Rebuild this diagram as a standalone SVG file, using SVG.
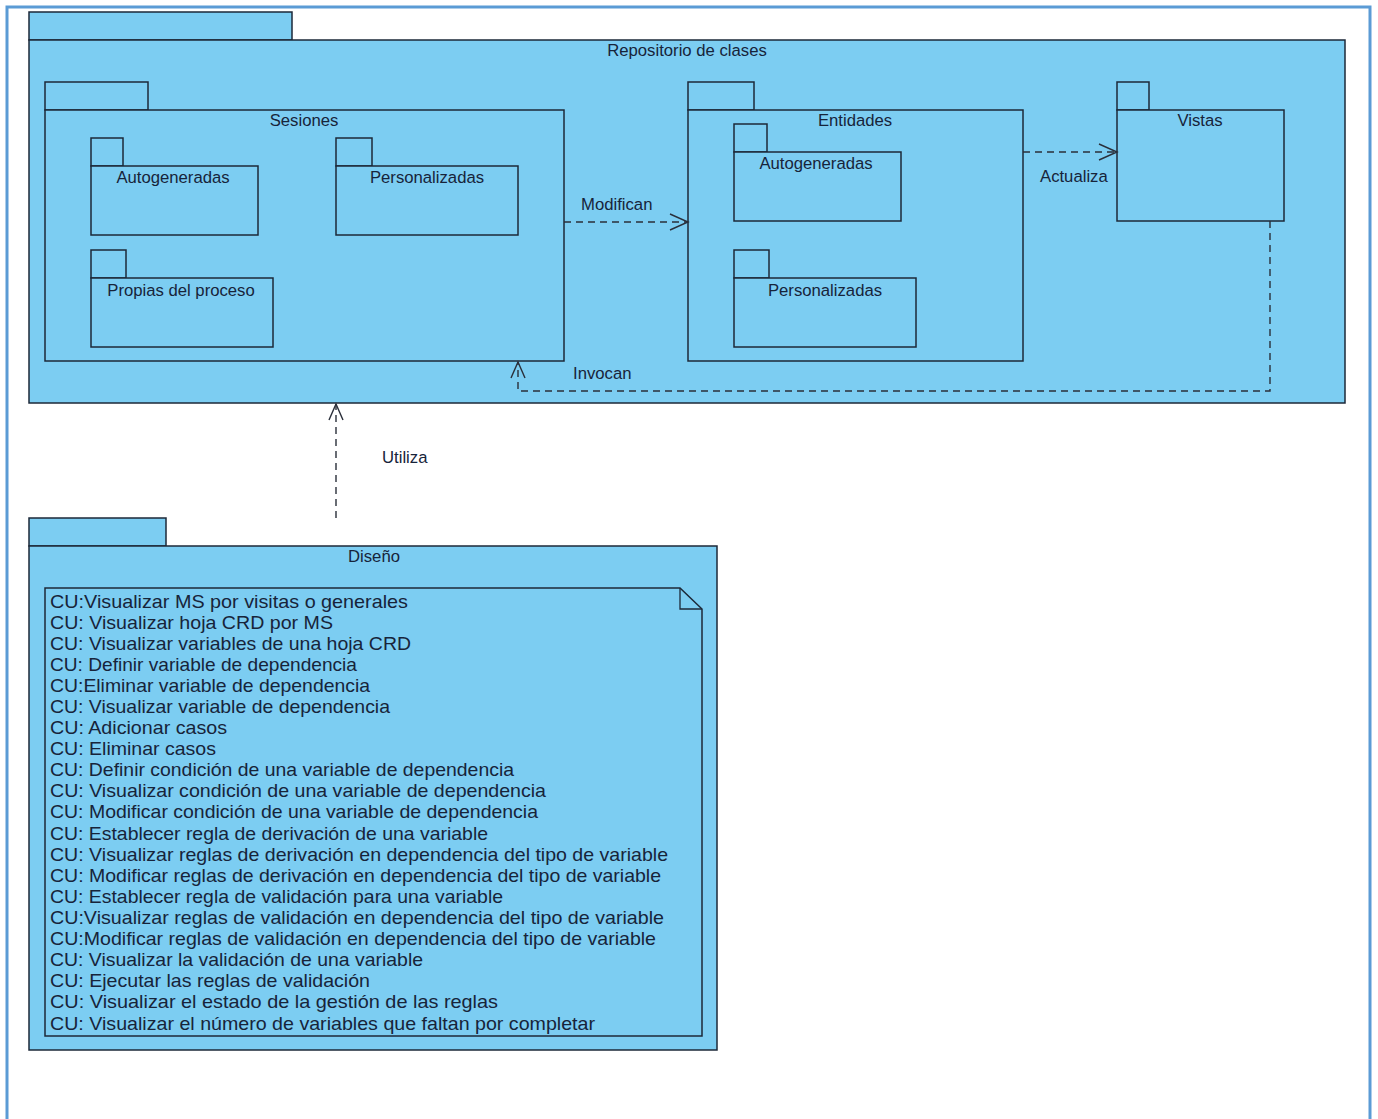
<svg xmlns="http://www.w3.org/2000/svg" width="1378" height="1119" viewBox="0 0 1378 1119">
<style>
.pk{fill:#7ccdf2;stroke:#1c2838;stroke-width:1.5}
.lb{font-family:"Liberation Sans",Arial,sans-serif;font-size:16.7px;fill:#17243a}
.mid{text-anchor:middle}
.cn{fill:none;stroke:#2a2f3a;stroke-width:1.4;stroke-dasharray:7 5}
.ah{fill:none;stroke:#2a2f3a;stroke-width:1.4}
.nt{font-family:"Liberation Sans",Arial,sans-serif;font-size:18.5px;fill:#17243a}
</style>
<rect width="1378" height="1119" fill="#ffffff"/>
<path d="M7,1119 V7 H1370 V1119" fill="none" stroke="#5b9bd5" stroke-width="3"/>

<g id="repositorio">
<rect class="pk" x="29" y="12" width="263" height="28"/>
<rect class="pk" x="29" y="40" width="1316" height="363"/>
<text class="lb mid" x="687" y="56">Repositorio de clases</text>
</g>

<g id="sesiones">
<rect class="pk" x="45" y="82" width="103" height="28"/>
<rect class="pk" x="45" y="110" width="519" height="251"/>
<text class="lb mid" x="304" y="126">Sesiones</text>
</g>
<g id="ses-autogeneradas">
<rect class="pk" x="91" y="138" width="32" height="28"/>
<rect class="pk" x="91" y="166" width="167" height="69"/>
<text class="lb mid" x="173" y="183">Autogeneradas</text>
</g>
<g id="ses-personalizadas">
<rect class="pk" x="336" y="138" width="36" height="28"/>
<rect class="pk" x="336" y="166" width="182" height="69"/>
<text class="lb mid" x="427" y="183">Personalizadas</text>
</g>
<g id="ses-propias">
<rect class="pk" x="91" y="250" width="35" height="28"/>
<rect class="pk" x="91" y="278" width="182" height="69"/>
<text class="lb mid" x="181" y="296">Propias del proceso</text>
</g>

<g id="entidades">
<rect class="pk" x="688" y="82" width="66" height="28"/>
<rect class="pk" x="688" y="110" width="335" height="251"/>
<text class="lb mid" x="855" y="126">Entidades</text>
</g>
<g id="ent-autogeneradas">
<rect class="pk" x="734" y="124" width="33" height="28"/>
<rect class="pk" x="734" y="152" width="167" height="69"/>
<text class="lb mid" x="816" y="169">Autogeneradas</text>
</g>
<g id="ent-personalizadas">
<rect class="pk" x="734" y="250" width="35" height="28"/>
<rect class="pk" x="734" y="278" width="182" height="69"/>
<text class="lb mid" x="825" y="296">Personalizadas</text>
</g>

<g id="vistas">
<rect class="pk" x="1117" y="82" width="32" height="28"/>
<rect class="pk" x="1117" y="110" width="167" height="111"/>
<text class="lb mid" x="1200" y="126">Vistas</text>
</g>

<g id="diseno">
<rect class="pk" x="29" y="518" width="137" height="28"/>
<rect class="pk" x="29" y="546" width="688" height="504"/>
<text class="lb mid" x="374" y="562">Diseño</text>
<path class="pk" d="M45,588 H680 L702,609 V1036 H45 Z"/>
<path d="M680,588 V609 H702" fill="none" stroke="#1c2838" stroke-width="1.3"/>
<g class="nt">
<text x="50" y="608" textLength="358" lengthAdjust="spacingAndGlyphs">CU:Visualizar MS por visitas o generales</text>
<text x="50" y="629" textLength="283" lengthAdjust="spacingAndGlyphs">CU: Visualizar hoja CRD por MS</text>
<text x="50" y="650" textLength="361" lengthAdjust="spacingAndGlyphs">CU: Visualizar variables de una hoja CRD</text>
<text x="50" y="671" textLength="307" lengthAdjust="spacingAndGlyphs">CU: Definir variable de dependencia</text>
<text x="50" y="692" textLength="320" lengthAdjust="spacingAndGlyphs">CU:Eliminar variable de dependencia</text>
<text x="50" y="713" textLength="340" lengthAdjust="spacingAndGlyphs">CU: Visualizar variable de dependencia</text>
<text x="50" y="734" textLength="177" lengthAdjust="spacingAndGlyphs">CU: Adicionar casos</text>
<text x="50" y="755" textLength="166" lengthAdjust="spacingAndGlyphs">CU: Eliminar casos</text>
<text x="50" y="776" textLength="464" lengthAdjust="spacingAndGlyphs">CU: Definir condición de una variable de dependencia</text>
<text x="50" y="797" textLength="496" lengthAdjust="spacingAndGlyphs">CU: Visualizar condición de una variable de dependencia</text>
<text x="50" y="818" textLength="488" lengthAdjust="spacingAndGlyphs">CU: Modificar condición de una variable de dependencia</text>
<text x="50" y="840" textLength="438" lengthAdjust="spacingAndGlyphs">CU: Establecer regla de derivación de una variable</text>
<text x="50" y="861" textLength="618" lengthAdjust="spacingAndGlyphs">CU: Visualizar reglas de derivación en dependencia del tipo de variable</text>
<text x="50" y="882" textLength="611" lengthAdjust="spacingAndGlyphs">CU: Modificar reglas de derivación en dependencia del tipo de variable</text>
<text x="50" y="903" textLength="453" lengthAdjust="spacingAndGlyphs">CU: Establecer regla de validación para una variable</text>
<text x="50" y="924" textLength="614" lengthAdjust="spacingAndGlyphs">CU:Visualizar reglas de validación en dependencia del tipo de variable</text>
<text x="50" y="945" textLength="606" lengthAdjust="spacingAndGlyphs">CU:Modificar reglas de validación en dependencia del tipo de variable</text>
<text x="50" y="966" textLength="373" lengthAdjust="spacingAndGlyphs">CU: Visualizar la validación de una variable</text>
<text x="50" y="987" textLength="320" lengthAdjust="spacingAndGlyphs">CU: Ejecutar las reglas de validación</text>
<text x="50" y="1008" textLength="448" lengthAdjust="spacingAndGlyphs">CU: Visualizar el estado de la gestión de las reglas</text>
<text x="50" y="1030" textLength="545" lengthAdjust="spacingAndGlyphs">CU: Visualizar el número de variables que faltan por completar</text>
</g>
</g>

<g id="connectors">
<path class="cn" d="M564,222 H687"/>
<path class="ah" d="M670,214 L688,222 L670,230"/>
<text class="lb" x="581" y="210">Modifican</text>

<path class="cn" d="M1023,152 H1116"/>
<path class="ah" d="M1099,144 L1117,152 L1099,160"/>
<text class="lb" x="1040" y="182">Actualiza</text>

<path class="cn" d="M1270,221 V391 H518 V362"/>
<path class="ah" d="M511,378 L518,362 L525,378"/>
<text class="lb" x="573" y="379">Invocan</text>

<path class="cn" d="M336,518 V404"/>
<path class="ah" d="M329,420 L336,404 L343,420"/>
<text class="lb" x="382" y="463">Utiliza</text>
</g>
</svg>
